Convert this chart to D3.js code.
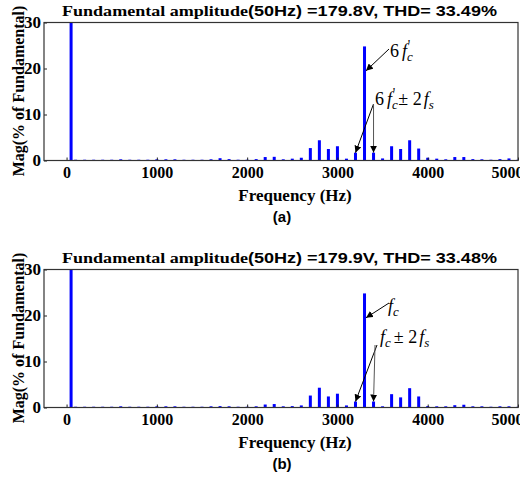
<!DOCTYPE html>
<html>
<head>
<meta charset="utf-8">
<script src="https://cdn.jsdelivr.net/npm/d3@7"></script>
<style>
  body { margin: 0; background: #fff; overflow: hidden; }
  svg { display: block; }
  .tick line { stroke: #222; }
  .domain { display: none; }
</style>
</head>
<body>
<div class="chart"></div>
<script>
const W = 520, H = 477;

// harmonic frequencies (Hz), 100 Hz spacing
const freqs = [100,200,300,400,500,600,700,800,900,1000,
  1100,1200,1300,1400,1500,1600,1700,1800,1900,2000,
  2100,2200,2300,2400,2500,2600,2700,2800,2900,3000,
  3100,3200,3300,3400,3500,3600,3700,3800,3900,4000,
  4100,4200,4300,4400,4500,4600,4700,4800,4900,5000];

// magnitudes (% of fundamental), panel (a)
const magsA = [0.05,0.05,0.05,0.05,0.05,0.15,0.05,0.05,0.05,0.1,
  0.15,0.15,0.05,0.05,0.05,0.25,0.5,0.3,0.05,0.05,
  0.3,0.75,0.8,0.25,0.4,0.6,2.7,4.4,2.5,3.1,
  0.4,1.7,24.8,1.7,0.45,3.1,2.5,4.4,2.6,0.6,
  0.4,0.25,0.75,0.75,0.3,0.1,0.05,0.3,0.45,0.05];

// panel (b)
const magsB = [0.05,0.05,0.05,0.05,0.05,0.15,0.05,0.05,0.05,0.1,
  0.15,0.1,0.05,0.05,0.05,0.1,0.3,0.2,0.05,0.05,
  0.2,0.65,0.75,0.2,0.3,0.45,2.6,4.3,2.4,3.0,
  0.45,1.3,24.8,1.3,0.2,2.9,2.2,4.2,2.4,0.3,
  0.15,0.15,0.5,0.6,0.15,0.1,0.05,0.1,0.2,0.05];

const fundFreq = 50, fundMag = 100;
const xTicks = [0,1000,2000,3000,4000,5000];
const yTicks = [0,10,20,30];

const titlesA = ["Fundamental amplitude", "(50Hz) =179.8V, THD= 33.49%"];
const titlesB = ["Fundamental amplitude", "(50Hz) =179.9V, THD= 33.48%"];

const svg = d3.select(".chart").append("svg")
    .attr("width", W).attr("height", H);

const defs = svg.append("defs");
defs.append("marker")
    .attr("id", "arr")
    .attr("viewBox", "0 0 10 10")
    .attr("refX", 10).attr("refY", 5)
    .attr("markerWidth", 7).attr("markerHeight", 7)
    .attr("markerUnits", "userSpaceOnUse")
    .attr("orient", "auto")
  .append("path")
    .attr("d", "M0,0 L10,5 L0,10 z")
    .attr("fill", "#000");

const serif = "'Liberation Serif', 'Times New Roman', serif";
const sans = "'Liberation Sans', Arial, sans-serif";

function panel(offY, titles, mags, label, primed) {
    const g = svg.append("g").attr("transform", "translate(0," + offY + ")");
    const x = d3.scaleLinear().domain([-250, 5000]).range([44, 518]);
    const y = d3.scaleLinear().domain([0, 30]).range([160.5, 22.5]);

    const plot = g.append("g");
    plot.append("clipPath").attr("id", "clip" + offY)
      .append("rect").attr("x", 44).attr("y", 22.5).attr("width", 474).attr("height", 138);

    // bars
    const bars = [{f: fundFreq, m: fundMag}].concat(freqs.map((f, i) => ({f: f, m: mags[i]})));
    plot.append("g").attr("clip-path", "url(#clip" + offY + ")")
      .selectAll("rect").data(bars).enter().append("rect")
        .attr("x", d => x(d.f) - 1.5)
        .attr("width", 3)
        .attr("y", d => Math.min(y(d.m), y(0) - 1.2))
        .attr("height", d => Math.max(1.2, y(0) - y(d.m)))
        .attr("fill", d => d.m < 0.1 ? "#9999ff" : "#0000ff");

    // axes, ticks inward
    const xAxis = g.append("g").attr("transform", "translate(0," + y(0) + ")")
        .call(d3.axisBottom(x).tickValues(xTicks).tickFormat(d3.format("d"))
              .tickSizeInner(-3).tickSizeOuter(0).tickPadding(6));
    xAxis.selectAll("text")
        .attr("font-family", serif).attr("font-weight", "bold").attr("font-size", 16)
        .attr("fill", "#000")
        .attr("dx", d => d === 5000 ? -11 : 0);
    const yAxis = g.append("g").attr("transform", "translate(44,0)")
        .call(d3.axisLeft(y).tickValues(yTicks).tickSizeInner(-3).tickSizeOuter(0).tickPadding(3));
    yAxis.selectAll("text")
        .attr("font-family", serif).attr("font-weight", "bold").attr("font-size", 17)
        .attr("fill", "#000");

    // frame
    g.append("rect").attr("x", 44).attr("y", 22.5).attr("width", 474).attr("height", 138)
        .attr("fill", "none").attr("stroke", "#333").attr("stroke-width", 1.2);

    // title
    const t = g.append("text").attr("x", 62).attr("y", 16)
        .attr("font-weight", "bold").attr("font-size", 15)
        .attr("textLength", 435).attr("lengthAdjust", "spacingAndGlyphs");
    t.append("tspan").attr("font-family", serif).text(titles[0]);
    t.append("tspan").attr("font-family", sans).text(titles[1]);

    // axis titles
    g.append("text").attr("transform", "translate(24,91) rotate(-90)")
        .attr("text-anchor", "middle")
        .attr("font-family", serif).attr("font-weight", "bold").attr("font-size", 16)
        .text("Mag(% of Fundamental)");
    g.append("text").attr("x", 295).attr("y", 201)
        .attr("text-anchor", "middle")
        .attr("font-family", serif).attr("font-weight", "bold").attr("font-size", 17)
        .text("Frequency (Hz)");
    g.append("text").attr("x", 282).attr("y", 222)
        .attr("text-anchor", "middle")
        .attr("font-family", sans).attr("font-weight", "bold").attr("font-size", 15)
        .text(label);

    // annotations
    const m3200 = mags[freqs.indexOf(3200)], m3400 = mags[freqs.indexOf(3400)];
    const ann = g.append("g").attr("font-family", serif).attr("font-size", 18);

    // carrier label
    const t1 = ann.append("text").attr("x", primed ? 390 : 388).attr("y", primed ? 56.5 : 64.5);
    if (primed) t1.append("tspan").text("6");
    t1.append("tspan").attr("font-style", "italic").attr("dx", primed ? 3 : 0).text("f");
    t1.append("tspan").attr("font-style", "italic").attr("font-size", 13).attr("dy", 4).text("c");
    if (primed) t1.append("tspan").attr("font-size", 14).attr("dx", -5).attr("dy", -11).text("'");

    ann.append("line")
        .attr("x1", 389).attr("y1", primed ? 49 : 56)
        .attr("x2", x(3300) + 1.5).attr("y2", y(19.5))
        .attr("stroke", "#000").attr("stroke-width", 1).attr("marker-end", "url(#arr)");

    // sideband label
    const t2 = ann.append("text").attr("x", primed ? 375 : 380).attr("y", primed ? 105 : 96);
    if (primed) t2.append("tspan").text("6");
    t2.append("tspan").attr("font-style", "italic").attr("dx", primed ? 3 : 0).text("f");
    t2.append("tspan").attr("font-style", "italic").attr("font-size", 13).attr("dy", 4).text("c");
    if (primed) t2.append("tspan").attr("font-size", 14).attr("dx", -5).attr("dy", -11).text("'");
    t2.append("tspan").attr("dy", primed ? 7 : -4).attr("dx", 3).text("\u00b1 2");
    t2.append("tspan").attr("font-style", "italic").attr("dx", 2).text("f");
    t2.append("tspan").attr("font-style", "italic").attr("font-size", 13).attr("dy", 4).text("s");

    const sy = primed ? 104 : 98;
    ann.append("line")
        .attr("x1", primed ? 373.5 : 377).attr("y1", sy)
        .attr("x2", x(3200)).attr("y2", y(m3200))
        .attr("stroke", "#000").attr("stroke-width", 1).attr("marker-end", "url(#arr)");
    ann.append("line")
        .attr("x1", x(3400) + (primed ? 0 : 1.5)).attr("y1", sy)
        .attr("x2", x(3400)).attr("y2", y(m3400))
        .attr("stroke", "#555").attr("stroke-width", 1).attr("marker-end", "url(#arr)");
}

panel(0, titlesA, magsA, "(a)", true);
panel(247, titlesB, magsB, "(b)", false);
</script>
</body>
</html>
